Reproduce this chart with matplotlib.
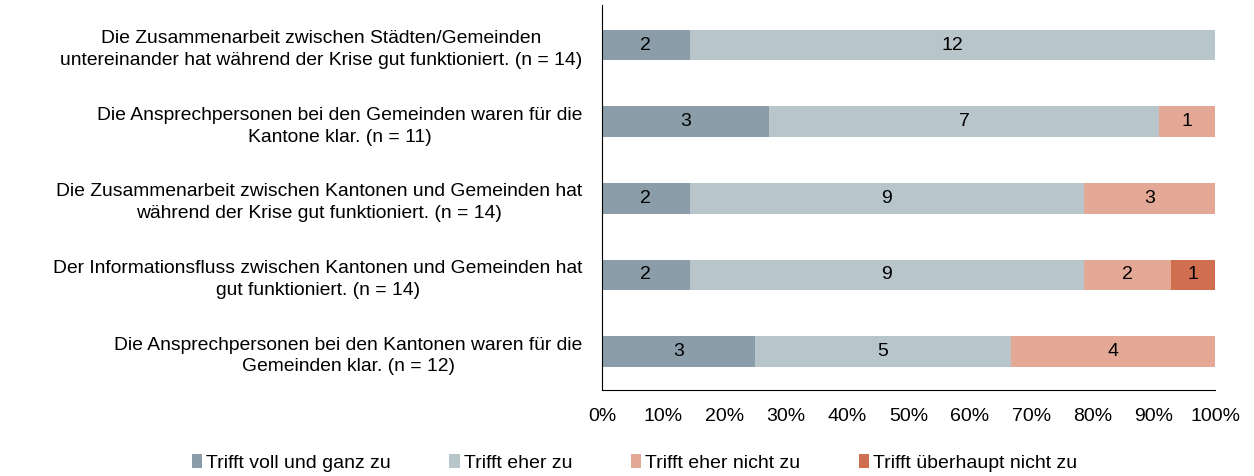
import matplotlib
matplotlib.use("Agg")
import matplotlib.pyplot as plt
import matplotlib.transforms as mtransforms
import numpy as np
from matplotlib.ticker import PercentFormatter

plt.rcParams['font.family'] = ['Liberation Sans', 'DejaVu Sans']

statements = [
    "Die Zusammenarbeit zwischen Städten/Gemeinden\nuntereinander hat während der Krise gut funktioniert. (n = 14)",
    "Die Ansprechpersonen bei den Gemeinden waren für die\nKantone klar. (n = 11)",
    "Die Zusammenarbeit zwischen Kantonen und Gemeinden hat\nwährend der Krise gut funktioniert. (n = 14)",
    "Der Informationsfluss zwischen Kantonen und Gemeinden hat\ngut funktioniert. (n = 14)",
    "Die Ansprechpersonen bei den Kantonen waren für die\nGemeinden klar. (n = 12)",
]
categories = ["Trifft voll und ganz zu", "Trifft eher zu", "Trifft eher nicht zu", "Trifft überhaupt nicht zu"]
voll = [2, 3, 2, 2, 3]
eher = [12, 7, 9, 9, 5]
eher_nicht = [0, 1, 3, 2, 4]
gar_nicht = [0, 0, 0, 1, 0]
colors = ["#8A9DA8", "#B8C5CB", "#E3A996", "#D06F50"]

series = np.array([voll, eher, eher_nicht, gar_nicht], dtype=float)
totals = series.sum(axis=0)
shares = series / totals

fs = 14
fig = plt.figure(figsize=(12.54, 4.76), dpi=100)
ax = fig.add_axes([0.480, 0.181, 0.489, 0.808])

y = np.arange(len(statements))
left = np.zeros(len(statements))
for i, cat in enumerate(categories):
    ax.barh(y, shares[i], left=left, height=0.4, color=colors[i], label=cat)
    for j in range(len(statements)):
        if series[i, j] > 0:
            ax.text(left[j] + shares[i, j] / 2, y[j], f"{int(series[i, j])}",
                    ha='center', va='center', fontsize=fs, color='black')
    left += shares[i]

ax.set_xlim(0, 1)
ax.set_ylim(4.5, -0.52)
ax.set_yticks(y)
ax.set_yticklabels(statements, fontsize=13.9)
shift = mtransforms.ScaledTranslation(0, 6 / 100, fig.dpi_scale_trans)
for lbl in ax.get_yticklabels():
    lbl.set_multialignment('center')
    lbl.set_linespacing(1.38)
    lbl.set_transform(lbl.get_transform() + shift)
ax.xaxis.set_major_formatter(PercentFormatter(1.0, decimals=0))
ax.set_xticks(np.linspace(0, 1, 11))
ax.tick_params(axis='x', length=0, labelsize=fs, pad=13)
ax.tick_params(axis='y', length=0, pad=14)
ax.spines['top'].set_visible(False)
ax.spines['right'].set_visible(False)
ax.spines['left'].set_color('black')
ax.spines['bottom'].set_color('black')

fig.legend(loc='center', bbox_to_anchor=(0.506, 0.027), ncol=4, frameon=False,
           fontsize=fs, handlelength=0.55, handleheight=0.7, handletextpad=0.2,
           columnspacing=3.0)

fig.savefig("out.png", dpi=100)
